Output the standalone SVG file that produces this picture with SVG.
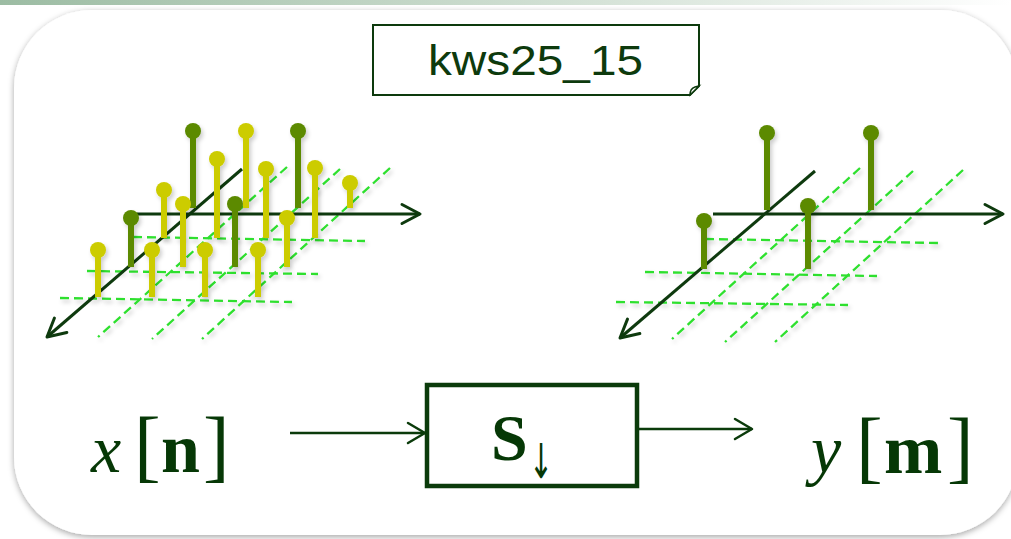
<svg xmlns="http://www.w3.org/2000/svg" width="1011" height="539" viewBox="0 0 1011 539">
  <defs>
    <linearGradient id="topbar" x1="0" y1="0" x2="1" y2="0">
      <stop offset="0" stop-color="#9cbca3"/>
      <stop offset="0.6" stop-color="#d6e3d8"/>
      <stop offset="1" stop-color="#ffffff"/>
    </linearGradient>
    <filter id="cardShadow" x="-5%" y="-5%" width="110%" height="112%">
      <feDropShadow dx="0" dy="2" stdDeviation="3" flood-color="#000" flood-opacity="0.35"/>
    </filter>
    <filter id="soft" x="-20%" y="-20%" width="140%" height="140%">
      <feDropShadow dx="2" dy="3" stdDeviation="2" flood-color="#000" flood-opacity="0.2"/>
    </filter>
    <marker id="chevAxis" markerUnits="userSpaceOnUse" markerWidth="26" markerHeight="26" refX="21" refY="13" orient="auto" viewBox="0 0 26 26">
      <path d="M3,3.5 L21,13 L3,22.5" fill="none" stroke="#0e3a0e" stroke-width="3" stroke-linecap="round" stroke-linejoin="round"/>
    </marker>
    <marker id="chevFlow" markerUnits="userSpaceOnUse" markerWidth="24" markerHeight="26" refX="19" refY="13" orient="auto" viewBox="0 0 24 26">
      <path d="M2,3 L19,13 L2,23" fill="none" stroke="#0b3b0b" stroke-width="2.5" stroke-linecap="round" stroke-linejoin="round"/>
    </marker>
    <style>
      .grid { stroke: #2fe02f; stroke-width: 2.3; stroke-dasharray: 9 5; fill: none; }
      .axis { stroke: #0e3a0e; stroke-width: 3; fill: none; marker-end: url(#chevAxis); }
      .stemG line { stroke: #5b8a00; stroke-width: 6; }
      .stemG circle { fill: #5b8a00; }
      .stemY line { stroke: #cccc00; stroke-width: 6; }
      .stemY circle { fill: #cccc00; }
      .flow { stroke: #0b3b0b; stroke-width: 2.5; fill: none; marker-end: url(#chevFlow); }
      .math { font-family: "Liberation Serif", "DejaVu Serif", serif; fill: #063806; }
      .it { font-style: italic; font-size: 68px; }
      .bd { font-weight: bold; font-size: 70px; }
      .br { font-size: 80px; }
    </style>
  </defs>

  <!-- header strip -->
  <rect x="0" y="0" width="1011" height="5" fill="url(#topbar)"/>

  <!-- card -->
  <rect x="14" y="10" width="1004" height="525" rx="78" ry="78" fill="#ffffff" filter="url(#cardShadow)"/>

  <!-- title tag with curled corner -->
  <g id="title">
    <path d="M373,25 H699 V86 L690,95 H373 Z" fill="#ffffff" stroke="#0d3a0d" stroke-width="2"/>
    <path d="M699,86 L690,95 C690,90 692,88 695,87 Z" fill="#ffffff" stroke="#0d3a0d" stroke-width="1.5"/>
    <text x="428" y="75" font-family="Liberation Sans, Arial, sans-serif" font-size="42" fill="#0d3a0d" textLength="215" lengthAdjust="spacingAndGlyphs">kws25_15</text>
  </g>

  <!-- input lattice: grid, axes, samples -->
  <g id="plot-input">
    <g filter="url(#soft)">
      <line class="grid" x1="133" y1="237" x2="365" y2="241"/>
      <line class="grid" x1="87" y1="271" x2="318" y2="274"/>
      <line class="grid" x1="60" y1="298" x2="292" y2="302"/>
      <line class="grid" x1="287" y1="167" x2="98" y2="337"/>
      <line class="grid" x1="340" y1="169" x2="152" y2="339"/>
      <line class="grid" x1="390" y1="168" x2="202" y2="339"/>
    </g>
    <line class="axis" x1="137" y1="214" x2="420" y2="214"/>
    <line class="axis" x1="242" y1="169" x2="47" y2="337"/>
    <g filter="url(#soft)">
      <g class="stemG">
        <line x1="193" y1="131" x2="193" y2="208"/><circle cx="193" cy="131" r="8"/>
        <line x1="298" y1="131" x2="298" y2="208"/><circle cx="298" cy="131" r="8"/>
      </g>
      <g class="stemY">
        <line x1="246" y1="131" x2="246" y2="208"/><circle cx="246" cy="131" r="8"/>
        <line x1="217" y1="159" x2="217" y2="238"/><circle cx="217" cy="159" r="8"/>
        <line x1="266" y1="169" x2="266" y2="238"/><circle cx="266" cy="169" r="8"/>
        <line x1="315" y1="168" x2="315" y2="238"/><circle cx="315" cy="168" r="8"/>
        <line x1="350" y1="183" x2="350" y2="208"/><circle cx="350" cy="183" r="8"/>
        <line x1="164" y1="190" x2="164" y2="238"/><circle cx="164" cy="190" r="8"/>
      </g>
      <g class="stemG">
        <line x1="131" y1="218" x2="131" y2="267"/><circle cx="131" cy="218" r="8"/>
        <line x1="235" y1="204" x2="235" y2="267"/><circle cx="235" cy="204" r="8"/>
      </g>
      <g class="stemY">
        <line x1="183" y1="204" x2="183" y2="267"/><circle cx="183" cy="204" r="8"/>
        <line x1="287" y1="218" x2="287" y2="267"/><circle cx="287" cy="218" r="8"/>
        <line x1="98" y1="250" x2="98" y2="297"/><circle cx="98" cy="250" r="8"/>
        <line x1="152" y1="250" x2="152" y2="297"/><circle cx="152" cy="250" r="8"/>
        <line x1="205" y1="250" x2="205" y2="297"/><circle cx="205" cy="250" r="8"/>
        <line x1="258" y1="250" x2="258" y2="297"/><circle cx="258" cy="250" r="8"/>
      </g>
    </g>
  </g>

  <!-- output lattice: grid, axes, kept samples -->
  <g id="plot-output">
    <g filter="url(#soft)">
      <line class="grid" x1="705" y1="239" x2="938" y2="243"/>
      <line class="grid" x1="645" y1="272" x2="877" y2="276"/>
      <line class="grid" x1="616" y1="302" x2="848" y2="305"/>
      <line class="grid" x1="860" y1="168" x2="672" y2="339"/>
      <line class="grid" x1="913" y1="171" x2="725" y2="342"/>
      <line class="grid" x1="963" y1="170" x2="775" y2="342"/>
    </g>
    <line class="axis" x1="713" y1="214" x2="1003" y2="214"/>
    <line class="axis" x1="815" y1="171" x2="620" y2="338"/>
    <g filter="url(#soft)" class="stemG">
      <line x1="767" y1="133" x2="767" y2="210"/><circle cx="767" cy="133" r="8"/>
      <line x1="871" y1="133" x2="871" y2="210"/><circle cx="871" cy="133" r="8"/>
      <line x1="704" y1="221" x2="704" y2="269"/><circle cx="704" cy="221" r="8"/>
      <line x1="808" y1="206" x2="808" y2="269"/><circle cx="808" cy="206" r="8"/>
    </g>
  </g>

  <!-- input signal label -->
  <g id="input">
    <text class="math" y="472"><tspan class="it" x="91">x</tspan><tspan class="br" x="134">[</tspan><tspan class="bd" x="161">n</tspan><tspan class="br" x="203">]</tspan></text>
  </g>

  <!-- downsampler block -->
  <g id="downsampler">
    <rect x="427" y="385" width="210" height="101" fill="#ffffff" stroke="#0b3b0b" stroke-width="4.5"/>
    <text class="math" x="491" y="460" font-size="66" font-weight="bold">S</text>
    <text transform="translate(529,478) scale(0.6,1)" x="0" y="0" font-family="DejaVu Sans, sans-serif" font-size="48" fill="#063806">↓</text>
  </g>

  <!-- output signal label -->
  <g id="output">
    <text class="math" y="473"><tspan class="it" x="811">y</tspan><tspan class="br" x="856">[</tspan><tspan class="bd" x="884">m</tspan><tspan class="br" x="947">]</tspan></text>
  </g>

  <!-- connectors -->
  <g id="connectors">
    <line class="flow" x1="290" y1="433" x2="425" y2="433"/>
    <line class="flow" x1="639" y1="429" x2="752" y2="429"/>
  </g>
</svg>
